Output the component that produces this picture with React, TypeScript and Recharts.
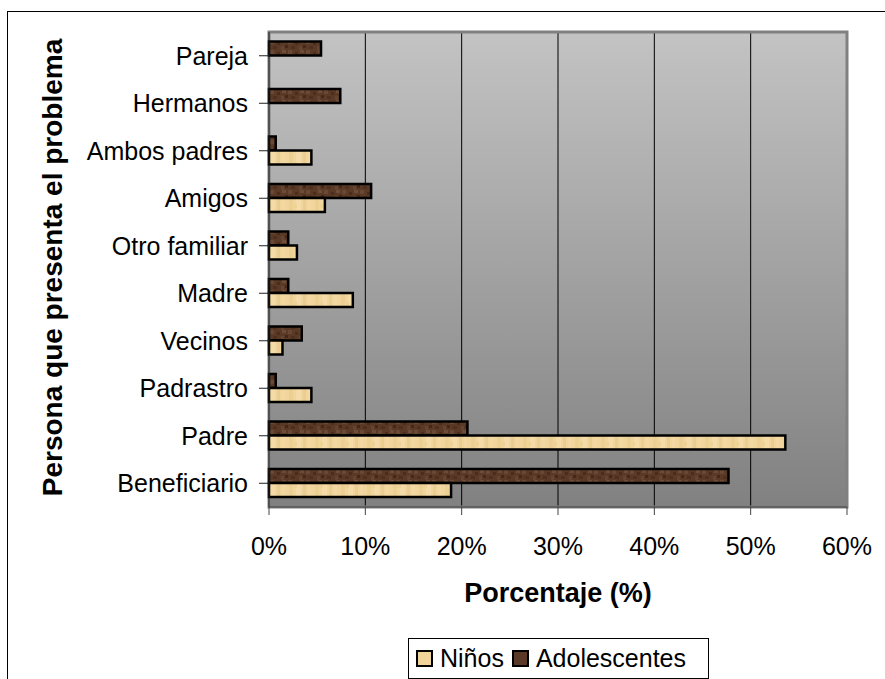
import {
  BarChart,
  Bar,
  XAxis,
  YAxis,
  CartesianGrid,
  ReferenceArea,
  Legend,
} from "recharts";

// Person presenting the problem, top to bottom
const personas = [
  "Pareja",
  "Hermanos",
  "Ambos padres",
  "Amigos",
  "Otro familiar",
  "Madre",
  "Vecinos",
  "Padrastro",
  "Padre",
  "Beneficiario",
];

// Percentages per group
const ninos = [0, 0, 4.4, 5.8, 2.9, 8.7, 1.4, 4.4, 53.6, 18.9];
const adolescentes = [5.4, 7.4, 0.7, 10.6, 2.0, 2.0, 3.4, 0.7, 20.6, 47.7];

const xTicks = [0, 10, 20, 30, 40, 50, 60];

const FONT = '"Liberation Sans", Arial, sans-serif';

const data = personas.map((persona, i) => ({
  persona,
  ninos: ninos[i],
  adolescentes: adolescentes[i],
}));

const legendItems = [
  { label: "Niños", color: "#f0d49a" },
  { label: "Adolescentes", color: "#5a3a27" },
];

const YTick = (props: any) => {
  const { x, y, payload } = props;
  return (
    <text x={x} y={y + 9} textAnchor="end" fontSize={25} fontFamily={FONT} fill="#000">
      {payload.value}
    </text>
  );
};

const XTick = (props: any) => {
  const { x, y, payload } = props;
  return (
    <text x={x} y={y + 40} textAnchor="middle" fontSize={25} fontFamily={FONT} fill="#000">
      {payload.value}%
    </text>
  );
};

const XTitle = (props: any) => {
  const { viewBox } = props;
  return (
    <text
      x={viewBox.x + viewBox.width / 2}
      y={viewBox.y + 95}
      textAnchor="middle"
      fontSize={27}
      fontWeight="bold"
      fontFamily={FONT}
      fill="#000"
    >
      Porcentaje (%)
    </text>
  );
};

const YTitle = (props: any) => {
  const { viewBox } = props;
  const cx = 62;
  const cy = viewBox.y + viewBox.height / 2 - 2;
  return (
    <text
      x={cx}
      y={cy}
      transform={`rotate(-90, ${cx}, ${cy})`}
      textAnchor="middle"
      fontSize={28}
      fontWeight="bold"
      fontFamily={FONT}
      fill="#000"
    >
      Persona que presenta el problema
    </text>
  );
};

const LegendBox = () => (
  <div
    style={{
      boxSizing: "border-box",
      width: 301,
      height: 41,
      border: "1px solid #000",
      background: "#fff",
      display: "flex",
      alignItems: "center",
      paddingLeft: 7,
      fontFamily: FONT,
      fontSize: 25,
      color: "#000",
    }}
  >
    {legendItems.map((item) => (
      <span key={item.label} style={{ display: "flex", alignItems: "center", marginRight: 8 }}>
        <span
          style={{
            display: "inline-block",
            boxSizing: "border-box",
            width: 17,
            height: 17,
            border: "2px solid #000",
            background: item.color,
            marginRight: 7,
          }}
        />
        {item.label}
      </span>
    ))}
  </div>
);

export default function App() {
  return (
    <div style={{ position: "absolute", left: 0, top: 0, width: 885, height: 679, background: "#fff" }}>
      {/* chart frame, clipped at the right and bottom */}
      <div
        style={{
          position: "absolute",
          left: 7,
          top: 11,
          right: 0,
          bottom: 0,
          borderTop: "1px solid #000",
          borderLeft: "1px solid #000",
        }}
      />
      <div style={{ position: "absolute", left: 0, top: 0 }}>
        <BarChart
          width={885}
          height={679}
          data={data}
          layout="vertical"
          margin={{ top: 32, right: 38, bottom: 112, left: 0 }}
          barCategoryGap="20%"
          barGap={0}
        >
          <defs>
            <linearGradient id="plotBg" x1="0" y1="0" x2="0" y2="1">
              <stop offset="0%" stopColor="#c3c3c3" />
              <stop offset="100%" stopColor="#818181" />
            </linearGradient>
            <pattern id="texNinos" width="26" height="14" patternUnits="userSpaceOnUse">
              <rect width="26" height="14" fill="#f1d59d" />
              <rect x="3" width="4" height="14" fill="#ecd093" />
              <rect x="10" width="5" height="14" fill="#f5dba7" />
              <rect x="17" width="3" height="14" fill="#eacd90" />
              <rect x="22" width="3" height="14" fill="#f3d8a2" />
              <rect x="6" y="8" width="5" height="4" fill="#eed296" />
            </pattern>
            <pattern id="texAdol" width="18" height="10" patternUnits="userSpaceOnUse">
              <rect width="18" height="10" fill="#5a3a27" />
              <rect x="0" y="0" width="4" height="4" fill="#6a4934" />
              <rect x="7" y="2" width="3" height="3" fill="#4a2d1d" />
              <rect x="12" y="0" width="4" height="3" fill="#6e4c37" />
              <rect x="3" y="6" width="4" height="3" fill="#4d301f" />
              <rect x="11" y="6" width="3" height="4" fill="#664431" />
              <rect x="15" y="5" width="3" height="3" fill="#44291a" />
            </pattern>
          </defs>
          <CartesianGrid
            horizontal={false}
            vertical
            stroke="#000"
            strokeWidth={1}
            fill="url(#plotBg)"
            fillOpacity={1}
          />
          <ReferenceArea x1={0} x2={60} fill="none" stroke="#808080" strokeWidth={3} ifOverflow="visible" />
          <XAxis
            type="number"
            domain={[0, 60]}
            ticks={xTicks}
            interval={0}
            height={60}
            axisLine={{ stroke: "#444" }}
            tickLine={{ stroke: "#444" }}
            tickSize={8}
            tickMargin={0}
            tick={XTick}
            label={XTitle}
          />
          <YAxis
            type="category"
            dataKey="persona"
            width={269}
            interval={0}
            axisLine={{ stroke: "#222" }}
            tickLine={{ stroke: "#222" }}
            tickSize={10}
            tickMargin={11}
            tick={YTick}
            label={YTitle}
          />
          <Legend
            layout="horizontal"
            verticalAlign="middle"
            align="center"
            content={LegendBox}
            wrapperStyle={{ left: 408, top: 638, width: 301, height: 41 }}
          />
          <Bar
            dataKey="adolescentes"
            name="Adolescentes"
            fill="url(#texAdol)"
            stroke="#000"
            strokeWidth={2.5}
            isAnimationActive={false}
          />
          <Bar
            dataKey="ninos"
            name="Niños"
            fill="url(#texNinos)"
            stroke="#000"
            strokeWidth={2.5}
            isAnimationActive={false}
          />
        </BarChart>
      </div>
    </div>
  );
}
